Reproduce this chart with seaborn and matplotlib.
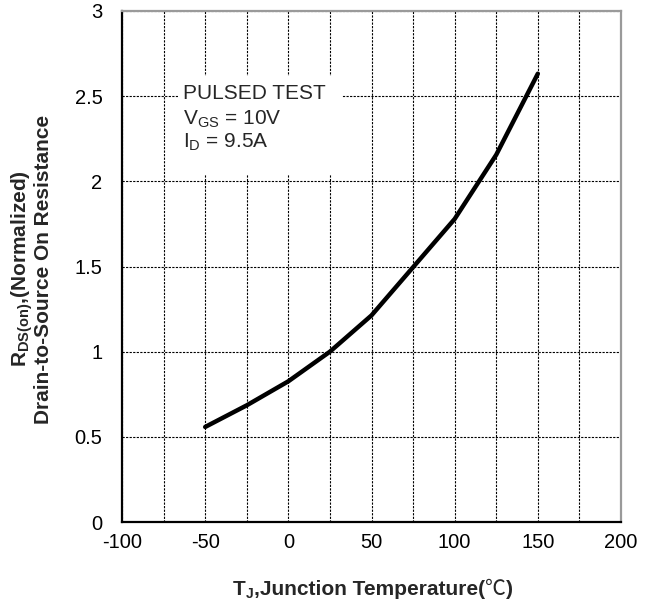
import matplotlib
matplotlib.use("Agg")
import matplotlib.pyplot as plt
import seaborn as sns
import pandas as pd
from matplotlib.patches import Rectangle

temperature = [-50, -25, 0, 25, 50, 75, 100, 125, 150]
rds_norm = [0.558, 0.685, 0.826, 1.0, 1.213, 1.496, 1.779, 2.156, 2.632]
x_ticks = [-100, -50, 0, 50, 100, 150, 200]
y_ticks = [0, 0.5, 1, 1.5, 2, 2.5, 3]
y_tick_labels = ["0", "0.5", "1", "1.5", "2", "2.5", "3"]

sns.set_style("white")
plt.rcParams['font.family'] = ['Liberation Sans', 'Noto Sans CJK SC', 'DejaVu Sans']
plt.rcParams['mathtext.fontset'] = 'custom'
plt.rcParams['mathtext.rm'] = 'Liberation Sans'
plt.rcParams['mathtext.default'] = 'regular'
plt.rcParams['axes.unicode_minus'] = False

W, H = 657, 603
df = pd.DataFrame({"T": temperature, "R": rds_norm})

fig = plt.figure(figsize=(W / 100, H / 100), dpi=100)
ax = fig.add_axes([122 / W, 81 / H, 499 / W, 511 / H])

sns.lineplot(data=df, x="T", y="R", ax=ax, color="black", linewidth=3.2, zorder=5)

ax.set_xlim(-100, 200)
ax.set_ylim(0, 3)
ax.set_xticks(x_ticks)
ax.set_yticks(y_ticks)
ax.set_yticklabels(y_tick_labels)
ax.set_xticks(range(-100, 201, 25), minor=True)
ax.tick_params(axis='both', which='both', length=0, labelsize=14.5, colors='black')
ax.tick_params(axis='x', pad=8)
ax.tick_params(axis='y', pad=14)
ax.set_xlabel("")
ax.set_ylabel("")

ax.grid(True, which='both', axis='x', color='black', linestyle=(0, (2, 1.2)), linewidth=0.8)
ax.grid(True, which='major', axis='y', color='black', linestyle=(0, (2, 1.2)), linewidth=0.8)
ax.set_axisbelow(True)

for s in ['left', 'bottom']:
    ax.spines[s].set_color('black')
    ax.spines[s].set_linewidth(1.6)
for s in ['top', 'right']:
    ax.spines[s].set_color('#9a9a9a')
    ax.spines[s].set_linewidth(1.6)

# x-axis label built from pieces (subscript + Celsius sign)
yb = (H - 595) / H
t1 = fig.text(233 / W, yb, "T", fontsize=15, fontweight='bold', va='baseline', ha='left')
t2 = ax.annotate("J", xy=(1, yb - 3 / H), xycoords=(t1, 'figure fraction'),
                 fontsize=10, fontweight='bold', va='baseline', ha='left',
                 annotation_clip=False)
t3 = ax.annotate(",Junction Temperature(", xy=(1, yb), xycoords=(t2, 'figure fraction'),
                 fontsize=15, fontweight='bold', va='baseline', ha='left',
                 annotation_clip=False)
t4 = ax.annotate("℃", xy=(1, yb), xycoords=(t3, 'figure fraction'),
                 fontsize=15, fontweight='normal', family='Noto Sans CJK SC',
                 va='baseline', ha='left', annotation_clip=False)
t5 = ax.annotate(")", xy=(1, yb), xycoords=(t4, 'figure fraction'),
                 fontsize=15, fontweight='bold', va='baseline', ha='left',
                 annotation_clip=False)

# y-axis label
fig.text(31 / W, (H - 269) / H, "R$_{DS(on)}$,(Normalized)\nDrain-to-Source On Resistance",
         fontsize=15, fontweight='bold', rotation=90, ha='center', va='center',
         multialignment='center', linespacing=0.92)

ax.add_patch(Rectangle((-66.3, 2.035), 98.5, 0.581, facecolor='white', edgecolor='none', zorder=3))
ax.text(-63.3, 2.481, "PULSED TEST", fontsize=15, va='baseline', ha='left', zorder=4)
ax.text(-63.3, 2.334, "V$_{GS}$ = 10V", fontsize=15, va='baseline', ha='left', zorder=4)
ax.text(-63.3, 2.199, "I$_D$ = 9.5A", fontsize=15, va='baseline', ha='left', zorder=4)

fig.savefig("out.png", dpi=100)
